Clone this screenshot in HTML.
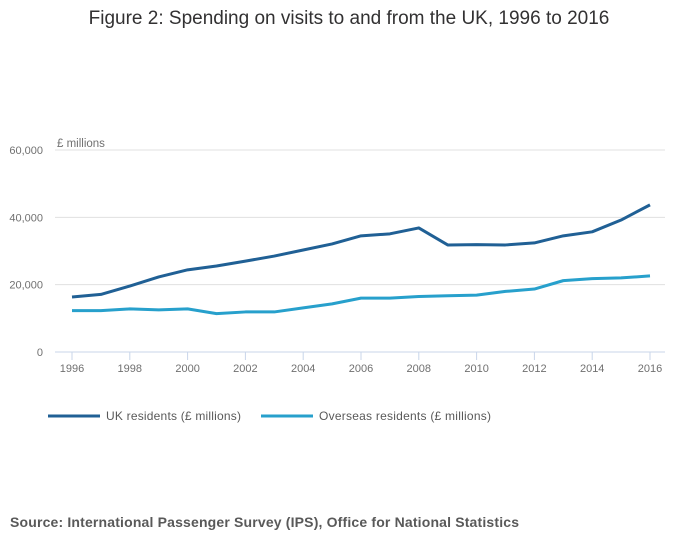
<!DOCTYPE html>
<html><head><meta charset="utf-8"><style>
body{margin:0;background:#fff;font-family:"Liberation Sans",sans-serif}
svg text{font-family:"Liberation Sans",sans-serif}
</style></head><body>
<svg id="c" width="700" height="549">
<text x="349" y="24" text-anchor="middle" font-size="19" fill="#323132">Figure 2: Spending on visits to and from the UK, 1996 to 2016</text>
<text x="57" y="147" font-size="11.5" fill="#707070">£ millions</text>
<text x="10" y="527" font-size="14" font-weight="bold" fill="#595959" textLength="509">Source: International Passenger Survey (IPS), Office for National Statistics</text>
<g id="grid"></g><g id="series"></g>
<g>
<line x1="48" y1="416" x2="100" y2="416" stroke="#206095" stroke-width="3"/>
<text x="106" y="420" font-size="12" fill="#595959" textLength="135">UK residents (£ millions)</text>
<line x1="261" y1="416" x2="313" y2="416" stroke="#27a0cc" stroke-width="3"/>
<text x="319" y="420" font-size="12" fill="#595959" textLength="172">Overseas residents (£ millions)</text>
</g>
</svg>
<script>
const years=[1996,1997,1998,1999,2000,2001,2002,2003,2004,2005,2006,2007,2008,2009,2010,2011,2012,2013,2014,2015,2016];
const ukValues=[16350,17100,19600,22300,24400,25550,27000,28500,30300,32100,34500,35100,36850,31800,31900,31800,32400,34500,35700,39200,43700];
const overseasValues=[12300,12300,12800,12500,12800,11400,11900,11900,13100,14300,16000,16000,16500,16700,16900,18000,18700,21200,21800,22000,22600];
const yTicks=[0,20000,40000,60000];
const xTicks=[1996,1998,2000,2002,2004,2006,2008,2010,2012,2014,2016];
const NS="http://www.w3.org/2000/svg";
const x=v=>72+(v-1996)*(650-72)/20;
const y=v=>352-v*(352-150)/60000;
const grid=document.getElementById('grid'),ser=document.getElementById('series');
function mk(t,a,p){const e=document.createElementNS(NS,t);for(const k in a)e.setAttribute(k,a[k]);p.appendChild(e);return e;}
yTicks.forEach(v=>{
 const l=mk('line',{x1:55,x2:665,y1:y(v),y2:y(v),stroke:v?'#e0e0e0':'#c8d5ea','stroke-width':1},grid);
 
 
 const t=mk('text',{x:43,y:y(v)+4,'text-anchor':'end','font-size':11,fill:'#707070'},grid);
 t.textContent=v.toLocaleString('en-GB');
 
 
});
xTicks.forEach(v=>{
 const l=mk('line',{x1:x(v),x2:x(v),y1:352,y2:360,stroke:'#c8d5ea'},grid);
 
 
 const t=mk('text',{x:x(v),y:372,'text-anchor':'middle','font-size':11,fill:'#707070'},grid);
 t.textContent=v;
 
 
});
[[ukValues,'#206095','uk-residents-line'],[overseasValues,'#27a0cc','overseas-residents-line']].forEach(([vals,col,name])=>{
 const p=mk('polyline',{points:vals.map((v,i)=>x(years[i])+','+y(v)).join(' '),fill:'none',stroke:col,'stroke-width':3,'stroke-linejoin':'round'},ser);
 
 
});
</script>
</body></html>
